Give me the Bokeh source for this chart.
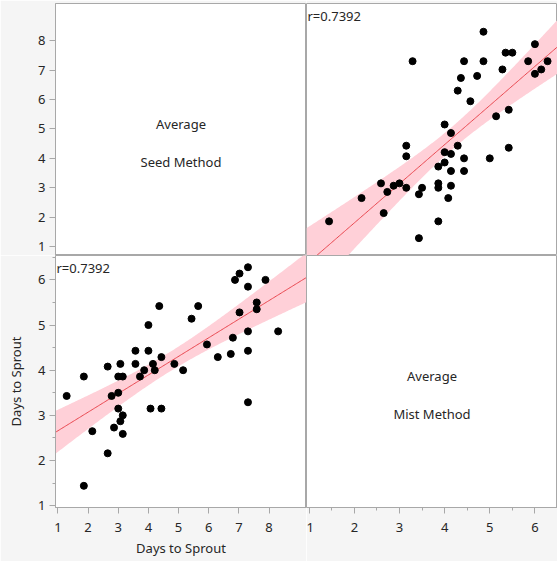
import numpy as np
from bokeh.plotting import figure
from bokeh.layouts import gridplot
from bokeh.models import Label, FixedTicker, Range1d
from bokeh.embed import file_html
from bokeh.resources import INLINE

# ---- data (averages, days to sprout) ----
seed = [1.29, 1.86, 1.86, 2.14, 2.65, 2.65, 2.78, 2.86, 3.00, 3.00, 3.00, 3.07,
        3.07, 3.15, 3.15, 3.15, 3.57, 3.57, 3.72, 3.86, 4.00, 4.00, 4.07, 4.15,
        4.21, 4.36, 4.43, 4.43, 4.86, 5.15, 5.43, 5.65, 5.94, 6.30, 6.73, 6.80,
        6.87, 7.02, 7.02, 7.30, 7.30, 7.30, 7.30, 7.30, 7.59, 7.59, 7.88, 8.30]
mist = [3.43, 3.86, 1.44, 2.65, 4.08, 2.16, 3.43, 2.73, 3.86, 3.50, 3.15, 4.14,
        2.87, 3.86, 3.00, 2.59, 4.43, 4.14, 3.86, 4.00, 5.00, 4.43, 3.15, 4.14,
        4.00, 5.42, 4.29, 3.15, 4.14, 4.00, 5.14, 5.42, 4.57, 4.29, 4.36, 4.72,
        6.00, 6.14, 5.28, 6.28, 5.85, 4.86, 4.43, 3.29, 5.50, 5.35, 6.00, 4.86]
var_names = ["Seed Method", "Mist Method"]
diag_title = "Average"
r_text = "r=0.7392"
axis_title = "Days to Sprout"
seed_ticks = [1, 2, 3, 4, 5, 6, 7, 8]
mist_ticks = [1, 2, 3, 4, 5, 6]
mist_minor = [1.5, 2.5, 3.5, 4.5, 5.5, 6.5]

# ---- style ----
FONT = "Noto Sans"
BG = "#f5f5f5"
EDGE = "#a8a8a8"
TXT = "#262626"
FW, FH = 251, 252
SEED_X = (0.92, 9.24)   # seed as x (bottom row)
SEED_Y = (0.70, 9.26)   # seed as y (top row)
MIST_X = (0.94, 6.50)
MIST_Y = (0.96, 6.54)
T975 = 2.013  # t quantile, df = n-2


def style_axis(ax, ticks, minor, title=None, standoff=4, title_standoff=10):
    ax.ticker = FixedTicker(ticks=ticks, minor_ticks=minor)
    ax.axis_line_color = EDGE
    ax.major_tick_line_color = EDGE
    ax.minor_tick_line_color = EDGE
    ax.major_tick_out = 6
    ax.major_tick_in = 0
    ax.minor_tick_out = 3
    ax.minor_tick_in = 0
    ax.major_label_text_font = FONT
    ax.major_label_text_font_size = "13px"
    ax.major_label_text_color = TXT
    ax.major_label_standoff = standoff
    if title:
        ax.axis_label = title
        ax.axis_label_text_font = FONT
        ax.axis_label_text_font_size = "13px"
        ax.axis_label_text_font_style = "normal"
        ax.axis_label_text_color = TXT
        ax.axis_label_standoff = title_standoff


def make_fig(xr, yr, left, right, top, bottom, xaxis, yaxis):
    p = figure(frame_width=FW, frame_height=FH,
               x_range=Range1d(*xr), y_range=Range1d(*yr),
               output_backend="svg", toolbar_location=None,
               x_axis_location="below" if xaxis else None,
               y_axis_location="left" if yaxis else None,
               min_border_left=left, min_border_right=right,
               min_border_top=top, min_border_bottom=bottom)
    p.grid.visible = False
    p.background_fill_color = "white"
    p.border_fill_color = BG
    p.outline_line_color = EDGE
    p.outline_line_width = 1
    return p


def diag_text(p, xr, yr, name):
    xc = (xr[0] + xr[1]) / 2
    for frac, t in ((0.48, diag_title), (0.627, name)):
        y = yr[1] - frac * (yr[1] - yr[0])
        p.add_layout(Label(x=xc, y=y, text=t, text_align="center",
                           text_baseline="middle", text_font=FONT,
                           text_font_size="13px", text_color=TXT))


def scatter_fit(p, x, y, xr, yr):
    x = np.asarray(x, float)
    y = np.asarray(y, float)
    n = len(x)
    b1, b0 = np.polyfit(x, y, 1)
    res = y - (b0 + b1 * x)
    s = np.sqrt(np.sum(res ** 2) / (n - 2))
    sxx = np.sum((x - x.mean()) ** 2)
    xs = np.linspace(xr[0], xr[1], 200)
    ys = b0 + b1 * xs
    half = T975 * s * np.sqrt(1.0 / n + (xs - x.mean()) ** 2 / sxx)
    p.varea(x=xs, y1=ys - half, y2=ys + half, fill_color="#ffd0d8", fill_alpha=1.0)
    p.line(xs, ys, line_color="#e8464e", line_width=1)
    p.scatter(x, y, size=7, fill_color="black", line_color="black")
    ty = yr[1] - 12.0 / FH * (yr[1] - yr[0])
    tx = xr[0] + 1.0 / FW * (xr[1] - xr[0])
    p.add_layout(Label(x=tx, y=ty, text=r_text, text_align="left",
                       text_baseline="middle", text_font=FONT,
                       text_font_size="13px", text_color=TXT))


# top-left: diagonal Seed
tl = make_fig(SEED_X, SEED_Y, 55, 0, 3, 0, False, True)
style_axis(tl.yaxis[0], seed_ticks, [])
diag_text(tl, SEED_X, SEED_Y, var_names[0])

# top-right: x = Mist, y = Seed
tr = make_fig(MIST_X, SEED_Y, 0, 0, 3, 0, False, False)
scatter_fit(tr, mist, seed, MIST_X, SEED_Y)

# bottom-left: x = Seed, y = Mist
bl = make_fig(SEED_X, MIST_Y, 55, 0, 0, 54, True, True)
style_axis(bl.xaxis[0], seed_ticks, [], axis_title, standoff=9, title_standoff=4)
style_axis(bl.yaxis[0], mist_ticks, mist_minor, axis_title)
scatter_fit(bl, seed, mist, SEED_X, MIST_Y)

# bottom-right: diagonal Mist
br = make_fig(MIST_X, MIST_Y, 0, 0, 0, 54, True, False)
style_axis(br.xaxis[0], mist_ticks, mist_minor, standoff=9)
diag_text(br, MIST_X, MIST_Y, var_names[1])

grid = gridplot([[tl, tr], [bl, br]], toolbar_location=None)

open("out.html", "w").write(file_html(grid, INLINE))
